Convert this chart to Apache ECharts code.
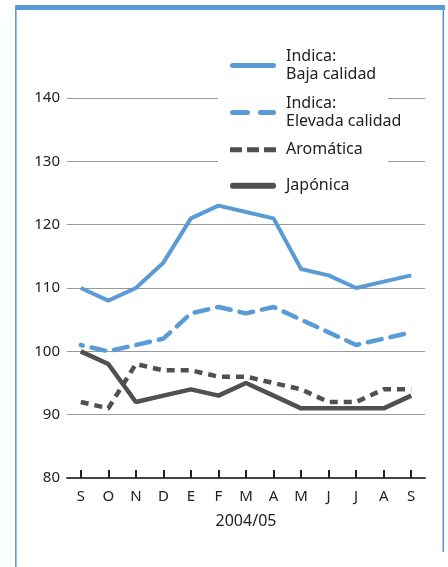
<!DOCTYPE html>
<html>
<head>
<meta charset="utf-8">
<script src="https://cdn.jsdelivr.net/npm/echarts@6/dist/echarts.min.js"></script>
<style>
html,body{margin:0;padding:0;background:#fff;}
#c{width:448px;height:567px;}
</style>
</head>
<body>
<div id="c"></div>
<script>
const categories = ['S','O','N','D','E','F','M','A','M','J','J','A','S'];
const yTicks = [80, 90, 100, 110, 120, 130, 140];
const xAxisName = '2004/05';
const seriesNames = ['Indica:\nBaja calidad', 'Indica:\nElevada calidad', 'Aromática', 'Japónica'];
const indicaBaja = [110, 108, 110, 114, 121, 123, 122, 121, 113, 112, 110, 111, 112];
const indicaElevada = [101, 100, 101, 102, 106, 107, 106, 107, 105, 103, 101, 102, 103];
const aromatica = [92, 91, 98, 97, 97, 96, 96, 95, 94, 92, 92, 94, 94];
const japonica = [100, 98, 92, 93, 94, 93, 95, 93, 91, 91, 91, 91, 93];

const BLUE = '#5b9bd5';
const GRAY = '#505050';
const FONT = 'Noto Sans';

const ICON_SOLID = 'path://M2.5,0h41a2.5,2.5 0 0 1 0,5h-41a2.5,2.5 0 0 1 0,-5z';
const ICON_LONGDASH = 'path://M2.5,0h15a2.5,2.5 0 0 1 0,5h-15a2.5,2.5 0 0 1 0,-5zM30.5,0h13a2.5,2.5 0 0 1 0,5h-13a2.5,2.5 0 0 1 0,-5z';
const ICON_SHORTDASH = 'path://M0,0h12v5h-12zM17,0h12v5h-12zM34,0h12v5h-12z';

const chart = echarts.init(document.getElementById('c'), null, {renderer: 'canvas'});

function legendAt(name, icon, top, h) {
  return {
    data: [{name: name, icon: icon}],
    left: 230,
    top: top,
    orient: 'vertical',
    padding: 0,
    itemWidth: 46,
    itemHeight: h,
    itemGap: 0,
    symbolKeepAspect: false,
    textStyle: {fontFamily: FONT, fontSize: 16, color: '#222', lineHeight: 17.5, padding: [0,0,0,5]},
    selectedMode: false
  };
}

chart.setOption({
  animation: false,
  backgroundColor: '#fff',
  grid: {left: 67, right: 23, top: 98, bottom: 89},
  legend: [
    legendAt(seriesNames[0], ICON_SOLID, 48, 5),
    legendAt(seriesNames[1], ICON_LONGDASH, 95, 5),
    legendAt(seriesNames[2], ICON_SHORTDASH, 141, 5),
    legendAt(seriesNames[3], ICON_SOLID, 177, 6)
  ],
  graphic: [
    {type: 'rect', shape: {x: 15, y: 5, width: 430, height: 5}, style: {fill: BLUE}, z: 10},
    {type: 'rect', shape: {x: 15, y: 5, width: 1.6, height: 562}, style: {fill: BLUE}, z: 10},
    {type: 'rect', shape: {x: 442.5, y: 5, width: 1.6, height: 547}, style: {fill: BLUE}, z: 10},
    {type: 'rect', shape: {x: 218, y: 44, width: 170, height: 152}, style: {fill: '#fff'}, z: 1}
  ],
  xAxis: {
    type: 'category',
    data: categories,
    boundaryGap: true,
    name: xAxisName,
    nameLocation: 'middle',
    nameGap: 35,
    nameTextStyle: {fontFamily: FONT, fontSize: 16, color: '#222'},
    axisLine: {lineStyle: {color: '#444', width: 2}},
    axisTick: {show: true, alignWithLabel: true, inside: true, length: 8, lineStyle: {color: '#222', width: 2}},
    axisLabel: {fontFamily: FONT, fontSize: 15, color: '#222', margin: 11},
    splitLine: {show: false}
  },
  yAxis: {
    type: 'value',
    min: yTicks[0],
    max: yTicks[yTicks.length - 1],
    interval: 10,
    axisLine: {show: false},
    axisTick: {show: false},
    axisLabel: {fontFamily: FONT, fontSize: 15, color: '#222', margin: 7},
    splitLine: {show: true, lineStyle: {color: '#999', width: 1.2}}
  },
  series: [
    {name: seriesNames[0], type: 'line', data: indicaBaja, showSymbol: false, symbol: 'none',
     lineStyle: {color: BLUE, width: 4}, itemStyle: {color: BLUE}, z: 3},
    {name: seriesNames[1], type: 'line', data: indicaElevada, showSymbol: false, symbol: 'none',
     lineStyle: {color: BLUE, width: 4.5, type: [14, 9], dashOffset: 12, cap: 'round'}, itemStyle: {color: BLUE}, z: 3},
    {name: seriesNames[2], type: 'line', data: aromatica, showSymbol: false, symbol: 'none',
     lineStyle: {color: GRAY, width: 4.5, type: [8, 6]}, itemStyle: {color: GRAY}, z: 3},
    {name: seriesNames[3], type: 'line', data: japonica, showSymbol: false, symbol: 'none',
     lineStyle: {color: GRAY, width: 4.5}, itemStyle: {color: GRAY}, z: 3}
  ]
});
</script>
</body>
</html>
